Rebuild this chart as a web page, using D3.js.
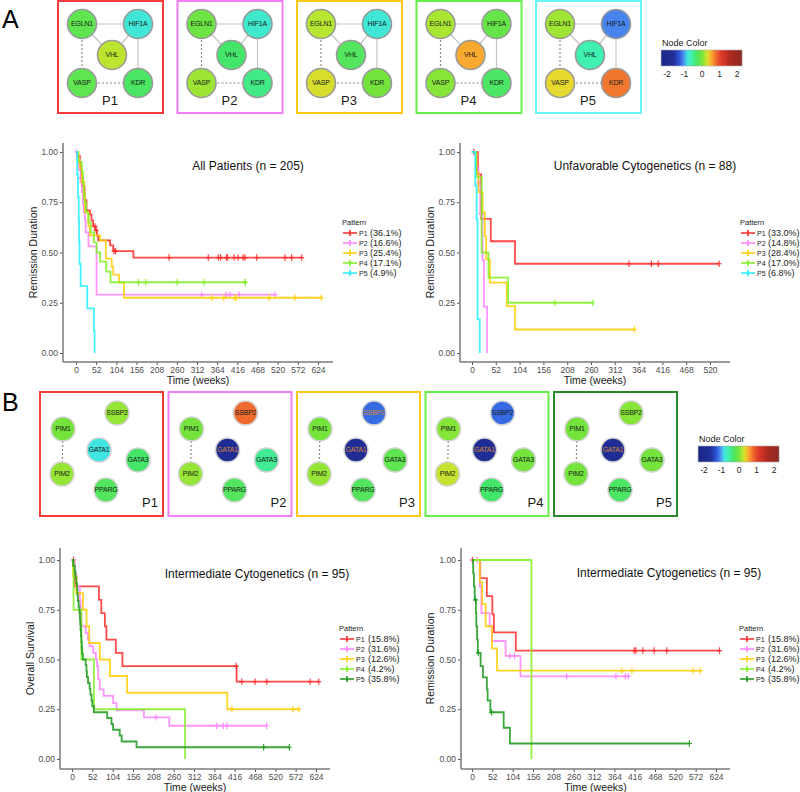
<!DOCTYPE html>
<html>
<head>
<meta charset="utf-8">
<script src="https://cdn.jsdelivr.net/npm/d3@7"></script>
<style>
  body { margin: 0; background: #fff; }
  svg { font-family: "Liberation Sans", Arial, sans-serif; }
</style>
</head>
<body>
<div id="chart"></div>
<script>
// ---------- network data ----------
const patterns = ["P1", "P2", "P3", "P4", "P5"];

const genesA = ["EGLN1", "HIF1A", "VHL", "VASP", "KDR"];
// node values (z-score like), one row per pattern, same order as genesA
const valuesA = [
  [-0.15, -0.8, 0.22, -0.15, -0.3],
  [-0.05, -0.75, -0.35, 0.12, -0.45],
  [0.2, -0.8, -0.25, 0.3, 0.0],
  [0.16, -0.1, 0.55, 0.05, -0.3],
  [0.13, -1.1, -0.6, 0.35, 0.75]
];
const edgesA = [
  ["EGLN1", "HIF1A", "solid"], ["EGLN1", "VHL", "solid"], ["HIF1A", "VHL", "solid"],
  ["HIF1A", "KDR", "solid"], ["EGLN1", "VASP", "dashed"], ["VASP", "KDR", "dashed"]
];

const genesB = ["SSBP2", "PIM1", "GATA1", "GATA3", "PIM2", "PPARG"];
const valuesB = [
  [0.1, 0.0, -0.85, -0.35, 0.1, -0.25],
  [0.8, 0.0, -1.8, -0.5, 0.1, -0.25],
  [-1.2, 0.0, -1.8, -0.15, 0.1, -0.25],
  [-1.2, 0.05, -1.8, 0.0, 0.25, -0.35],
  [0.05, 0.0, -1.8, 0.0, 0.0, -0.3]
];
const edgesB = [["PIM1", "PIM2", "dashed"]];
const flaggedB = [[], ["GATA1"], ["SSBP2", "GATA1"], ["GATA1"], ["GATA1"]];

const colorTicks = [-2, -1, 0, 1, 2];

// ---------- survival data: steps [week, survival], censor weeks ----------
const weeks624 = [0, 52, 104, 156, 208, 260, 312, 364, 416, 468, 520, 572, 624];
const weeks520 = [0, 52, 104, 156, 208, 260, 312, 364, 416, 468, 520];
const survTicks = [0, 0.25, 0.5, 0.75, 1];

const allPct = ["(36.1%)", "(16.6%)", "(25.4%)", "(17.1%)", "(4.9%)"];
const allSteps = [
  [[0,1],[5,0.98],[10,0.93],[13,0.87],[16,0.83],[22,0.76],[27,0.71],[36,0.69],[40,0.66],[44,0.63],[50,0.61],[54,0.585],[57,0.56],[88,0.535],[96,0.507],[148,0.475],[582,0.475]],
  [[0,1],[3,0.97],[8,0.91],[12,0.85],[15,0.8],[18,0.74],[20,0.7],[23,0.66],[25,0.6],[32,0.53],[53,0.29],[513,0.29]],
  [[0,1],[6,0.96],[10,0.92],[15,0.85],[20,0.78],[23,0.7],[32,0.63],[36,0.585],[62,0.56],[77,0.47],[92,0.43],[96,0.39],[111,0.35],[124,0.275],[633,0.275]],
  [[0,1],[6,0.95],[15,0.9],[18,0.85],[20,0.8],[22,0.75],[26,0.7],[32,0.65],[38,0.6],[46,0.55],[53,0.5],[62,0.455],[78,0.405],[89,0.352],[437,0.352]],
  [[0,1],[3,0.889],[5,0.778],[7,0.667],[8,0.556],[9,0.444],[12,0.333],[29,0.222],[46,0.111],[48,0]]
];
const allCensor = [
  [15, 49, 52, 98, 102, 240, 341, 367, 373, 388, 390, 408, 418, 431, 436, 466, 539, 556, 582],
  [1, 324, 387, 397, 421, 513],
  [18, 351, 381, 410, 412, 498, 564, 633],
  [161, 180, 261, 330, 436, 437],
  []
];

const unfavPct = ["(33.0%)", "(14.8%)", "(28.4%)", "(17.0%)", "(6.8%)"];
const unfavSteps = [
  [[0,1],[13,0.889],[20,0.667],[41,0.556],[94,0.444],[540,0.444]],
  [[0,1],[10,0.923],[14,0.846],[18,0.692],[23,0.462],[26,0.231],[33,0]],
  [[0,1],[10,0.9],[14,0.8],[23,0.7],[28,0.58],[31,0.467],[39,0.35],[76,0.233],[94,0.117],[355,0.117]],
  [[0,1],[9,0.875],[21,0.5],[36,0.375],[79,0.25],[264,0.25]],
  [[0,1],[7,0.833],[10,0.667],[12,0.167],[17,0]]
];
const unfavCensor = [[4, 343, 392, 407, 540], [15, 19], [355], [181, 264], []];

const interPct = ["(15.8%)", "(31.6%)", "(12.6%)", "(4.2%)", "(35.8%)"];
const interOsSteps = [
  [[0,1],[5,0.933],[7,0.867],[69,0.8],[75,0.733],[84,0.667],[88,0.6],[112,0.533],[129,0.467],[421,0.389],[631,0.389]],
  [[0,1],[7,0.933],[11,0.867],[20,0.8],[22,0.733],[24,0.667],[35,0.633],[41,0.6],[45,0.567],[54,0.533],[61,0.5],[64,0.467],[67,0.4],[71,0.35],[81,0.317],[105,0.281],[114,0.244],[184,0.209],[249,0.167],[498,0.167]],
  [[0,1],[3,0.917],[11,0.833],[28,0.75],[37,0.667],[44,0.583],[71,0.5],[97,0.417],[141,0.333],[397,0.25],[580,0.25]],
  [[0,1],[4,0.75],[24,0.5],[56,0.25],[289,0]],
  [[0,1],[3,0.971],[7,0.941],[9,0.912],[11,0.882],[13,0.853],[14,0.824],[15,0.794],[17,0.765],[19,0.735],[20,0.706],[21,0.676],[22,0.647],[23,0.618],[24,0.588],[25,0.559],[26,0.529],[28,0.5],[35,0.471],[37,0.441],[38,0.412],[41,0.382],[45,0.353],[47,0.324],[50,0.294],[52,0.265],[56,0.235],[90,0.206],[101,0.176],[105,0.147],[122,0.118],[127,0.088],[165,0.059],[556,0.059]]
];
const interOsCensor = [[4, 420, 434, 468, 498, 609, 631], [215, 370, 387, 396, 498], [409, 565, 580], [], [490, 556]];

const interRdSteps = [
  [[0,1],[21,0.909],[38,0.818],[52,0.727],[56,0.636],[112,0.545],[633,0.545]],
  [[0,1],[20,0.867],[24,0.733],[45,0.667],[51,0.593],[86,0.518],[124,0.415],[400,0.415]],
  [[0,1],[20,0.889],[26,0.778],[35,0.667],[51,0.556],[64,0.444],[584,0.444]],
  [[0,1],[152,1],[152,0]],
  [[0,1],[3,0.933],[5,0.867],[7,0.8],[10,0.733],[11,0.667],[13,0.6],[15,0.533],[22,0.467],[28,0.41],[38,0.35],[40,0.294],[47,0.235],[81,0.157],[97,0.078],[556,0.078]]
];
const interRdCensor = [[1, 415, 419, 437, 466, 498, 633], [13, 97, 109, 242, 368, 392, 400], [383, 409, 565, 584], [], [9, 16, 50, 556]];

// ---------- styles ----------
const colorsA = ["#ff2a2a", "#ff82ff", "#ffcc00", "#7fee22", "#22eeff"];
const colorsB = ["#ff2a2a", "#ff82ff", "#ffcc00", "#7fee22", "#1a961a"];
const boxColorsA = ["#f23a3a", "#f47cf4", "#f8c81a", "#66ee4a", "#66f6f6"];
const boxColorsB = ["#f23a3a", "#f47cf4", "#f8c81a", "#66ee4a", "#2a8a2a"];

const nodeColor = d3.scaleLinear()
  .domain([-2.35, -1.6, -1.25, -1.05, -0.85, -0.6, -0.35, 0, 0.2, 0.35, 0.55, 0.8, 1.1, 1.6, 2.3])
  .range(["#1a2686", "#22309a", "#2f5ee0", "#4f90f0", "#40e4e0", "#40f0b0", "#44e66a", "#74e43c",
          "#b6e630", "#e6d82c", "#f8aa30", "#f06a2e", "#e03a28", "#b02a20", "#8a2a22"])
  .clamp(true);

const layoutA = {EGLN1: [24, 23], HIF1A: [80, 23], VHL: [54, 54], VASP: [24, 82], KDR: [80, 82]};
const layoutB = {SSBP2: [77, 21], PIM1: [23, 37], GATA1: [59, 58], GATA3: [98, 68], PIM2: [22, 82], PPARG: [66, 98]};

const svg = d3.select("#chart").append("svg")
  .attr("width", 800).attr("height", 792);

// panel letters
svg.append("text").attr("x", 2).attr("y", 28).attr("font-size", 25).text("A");
svg.append("text").attr("x", 2).attr("y", 411).attr("font-size", 25).text("B");

// ---------- network panels ----------
function drawNetworks(o) {
  patterns.forEach((p, i) => {
    const g = svg.append("g").attr("transform", `translate(${o.x0 + i * o.step},${o.y0})`);
    g.append("rect").attr("x", 0).attr("y", 0).attr("width", o.w).attr("height", o.h)
      .attr("fill", "none").attr("stroke", o.boxColors[i]).attr("stroke-width", 2);

    g.selectAll("line").data(o.edges).enter().append("line")
      .attr("x1", d => o.layout[d[0]][0]).attr("y1", d => o.layout[d[0]][1])
      .attr("x2", d => o.layout[d[1]][0]).attr("y2", d => o.layout[d[1]][1])
      .attr("stroke", d => d[2] === "dashed" ? "#8a8a8a" : "#c4c4c4")
      .attr("stroke-width", 1.2)
      .attr("stroke-dasharray", d => d[2] === "dashed" ? "2,2" : null);

    const node = g.selectAll("g.node").data(o.genes).enter().append("g")
      .attr("class", "node")
      .attr("transform", d => `translate(${o.layout[d][0]},${o.layout[d][1]})`);
    node.append("circle").attr("r", o.r)
      .attr("fill", (d, j) => nodeColor(o.values[i][j]))
      .attr("stroke", o.nodeStroke).attr("stroke-width", 1.6);
    node.append("text").attr("text-anchor", "middle").attr("dy", "0.35em")
      .attr("font-size", 7).attr("letter-spacing", -0.2)
      .attr("fill", d => o.flagged && o.flagged[i].includes(d) ? "#d9862a" : "#1a1a1a")
      .text(d => d);

    g.append("text").attr("x", o.labelX).attr("y", o.labelY)
      .attr("text-anchor", o.labelAnchor).attr("font-size", 13).attr("fill", "#1a1a1a").text(p);
  });
}

drawNetworks({x0: 58, y0: 1, step: 119.5, w: 105, h: 112, r: 14.5, genes: genesA, values: valuesA,
  edges: edgesA, layout: layoutA, boxColors: boxColorsA, nodeStroke: "#9a9a9a",
  labelX: 52, labelY: 104, labelAnchor: "middle"});
drawNetworks({x0: 40, y0: 392, step: 128.5, w: 123, h: 124, r: 12, genes: genesB, values: valuesB,
  edges: edgesB, layout: layoutB, boxColors: boxColorsB, nodeStroke: "#d4d4d4", flagged: flaggedB,
  labelX: 118, labelY: 115, labelAnchor: "end"});

// ---------- colour bars ----------
const defs = svg.append("defs");
const grad = defs.append("linearGradient").attr("id", "cbar");
const cbVals = d3.range(0, 41).map(k => -2.34 + k * (4.63 / 40));
grad.selectAll("stop").data(cbVals).enter().append("stop")
  .attr("offset", (d, k) => (k / 40 * 100) + "%")
  .attr("stop-color", d => nodeColor(d));

function drawColorBar(cx0, y0) {
  const s = d3.scaleLinear().domain([-2, 2]).range([cx0 + 6, cx0 + 76]);
  const g = svg.append("g");
  g.append("text").attr("x", cx0 + 1).attr("y", y0 - 4).attr("font-size", 9).attr("fill", "#222").text("Node Color");
  g.append("rect").attr("x", s(-2.34)).attr("y", y0).attr("width", s(2.29) - s(-2.34)).attr("height", 16)
    .attr("fill", "url(#cbar)").attr("stroke", "#b0b0b0").attr("stroke-width", 0.6);
  g.selectAll("text.tk").data(colorTicks).enter().append("text")
    .attr("class", "tk").attr("x", d => s(d)).attr("y", y0 + 27)
    .attr("text-anchor", "middle").attr("font-size", 8.5).attr("fill", "#222")
    .text(d => d);
}
drawColorBar(661, 50);
drawColorBar(698, 446);

// ---------- Kaplan-Meier panels ----------
function survAt(steps, t) {
  let s = 1;
  steps.forEach(d => { if (d[0] <= t) s = d[1]; });
  return s;
}

function drawKM(o) {
  const g = svg.append("g");
  const x = d3.scaleLinear().domain([0, o.xMax]).range([o.x0, o.x1]);
  const y = d3.scaleLinear().domain([0, 1]).range([o.yBottom, o.yTop]);

  const xAxis = g.append("g").attr("transform", `translate(0,${o.axisY})`)
    .call(d3.axisBottom(x).tickValues(o.xTicks).tickSize(3).tickPadding(2));
  const yAxis = g.append("g").attr("transform", `translate(${o.axisL},0)`)
    .call(d3.axisLeft(y).tickValues(survTicks).tickFormat(d3.format(".2f")).tickSize(3).tickPadding(2));
  [xAxis, yAxis].forEach(a => {
    a.select(".domain").remove();
    a.selectAll(".tick line").attr("stroke", "#555");
    a.selectAll(".tick text").attr("fill", "#4d4d4d").attr("font-size", 8.5)
      .attr("font-family", "\"Liberation Sans\", Arial, sans-serif");
  });
  g.append("line").attr("x1", o.axisL).attr("x2", o.axisR).attr("y1", o.axisY).attr("y2", o.axisY)
    .attr("stroke", "#7a7a7a").attr("stroke-width", 1.5);
  g.append("line").attr("x1", o.axisL).attr("x2", o.axisL).attr("y1", o.axisTop).attr("y2", o.axisY)
    .attr("stroke", "#7a7a7a").attr("stroke-width", 1.5);

  g.append("text").attr("x", (o.axisL + o.axisR) / 2).attr("y", o.axisY + 22)
    .attr("text-anchor", "middle").attr("font-size", 10.5).attr("fill", "#1a1a1a").text("Time (weeks)");
  g.append("text").attr("transform", `translate(${o.ylabX},${(o.axisTop + o.axisY) / 2}) rotate(-90)`)
    .attr("text-anchor", "middle").attr("font-size", 10.5).attr("fill", "#1a1a1a").text(o.ylab);
  g.append("text").attr("x", o.titleX).attr("y", o.titleY)
    .attr("text-anchor", "middle").attr("font-size", 12).attr("fill", "#111").text(o.title);

  const line = d3.line().x(d => x(d[0])).y(d => y(d[1])).curve(d3.curveStepAfter);
  o.steps.forEach((steps, i) => {
    g.append("path").attr("d", line(steps)).attr("fill", "none")
      .attr("stroke", o.colors[i]).attr("stroke-width", 1.8).attr("stroke-opacity", 0.85);
    g.append("g").selectAll("path").data(o.censor[i]).enter().append("path")
      .attr("d", t => {
        const cx = x(t), cy = y(survAt(steps, t));
        return `M${cx - 2.5},${cy}H${cx + 2.5}M${cx},${cy - 3.2}V${cy + 3.2}`;
      })
      .attr("stroke", o.colors[i]).attr("stroke-width", 1.2).attr("stroke-opacity", 0.9);
  });

  // legend
  const lg = g.append("g").attr("transform", `translate(${o.legX},${o.legY})`);
  lg.append("text").attr("x", 0).attr("y", 0).attr("font-size", 7.5).attr("fill", "#222").text("Pattern");
  patterns.forEach((p, i) => {
    const cy = 8 + i * 10;
    lg.append("path").attr("d", `M1,${cy}H15M8,${cy - 3}V${cy + 3}`)
      .attr("stroke", o.colors[i]).attr("stroke-width", 1.6);
    lg.append("text").attr("x", 17).attr("y", cy + 2.6).attr("font-size", 7).attr("fill", "#222").text(p);
    lg.append("text").attr("x", o.pctOff).attr("y", cy + 3.2).attr("font-size", 9).attr("fill", "#222").text(o.pct[i]);
  });
}

drawKM({steps: allSteps, censor: allCensor, pct: allPct, colors: colorsA,
  title: "All Patients (n = 205)", ylab: "Remission Duration", xTicks: weeks624, xMax: 624,
  x0: 76, x1: 318, yTop: 152, yBottom: 353, axisL: 63, axisR: 333, axisTop: 143, axisY: 362,
  titleX: 248, titleY: 170, ylabX: 37, legX: 342, legY: 225, pctOff: 28});
drawKM({steps: unfavSteps, censor: unfavCensor, pct: unfavPct, colors: colorsA,
  title: "Unfavorable Cytogenetics (n = 88)", ylab: "Remission Duration", xTicks: weeks520, xMax: 520,
  x0: 472, x1: 710, yTop: 152, yBottom: 353, axisL: 460, axisR: 730, axisTop: 143, axisY: 362,
  titleX: 645, titleY: 170, ylabX: 434, legX: 740, legY: 225, pctOff: 28});
drawKM({steps: interOsSteps, censor: interOsCensor, pct: interPct, colors: colorsB,
  title: "Intermediate Cytogenetics (n = 95)", ylab: "Overall Survival", xTicks: weeks624, xMax: 624,
  x0: 72, x1: 316, yTop: 560, yBottom: 759, axisL: 60, axisR: 330, axisTop: 548, axisY: 769,
  titleX: 257, titleY: 578, ylabX: 34, legX: 339, legY: 631, pctOff: 29});
drawKM({steps: interRdSteps, censor: interRdCensor, pct: interPct, colors: colorsB,
  title: "Intermediate Cytogenetics (n = 95)", ylab: "Remission Duration", xTicks: weeks624, xMax: 624,
  x0: 472, x1: 716, yTop: 560, yBottom: 759, axisL: 461, axisR: 730, axisTop: 548, axisY: 769,
  titleX: 669, titleY: 577, ylabX: 434, legX: 739, legY: 631, pctOff: 29});
</script>
</body>
</html>
